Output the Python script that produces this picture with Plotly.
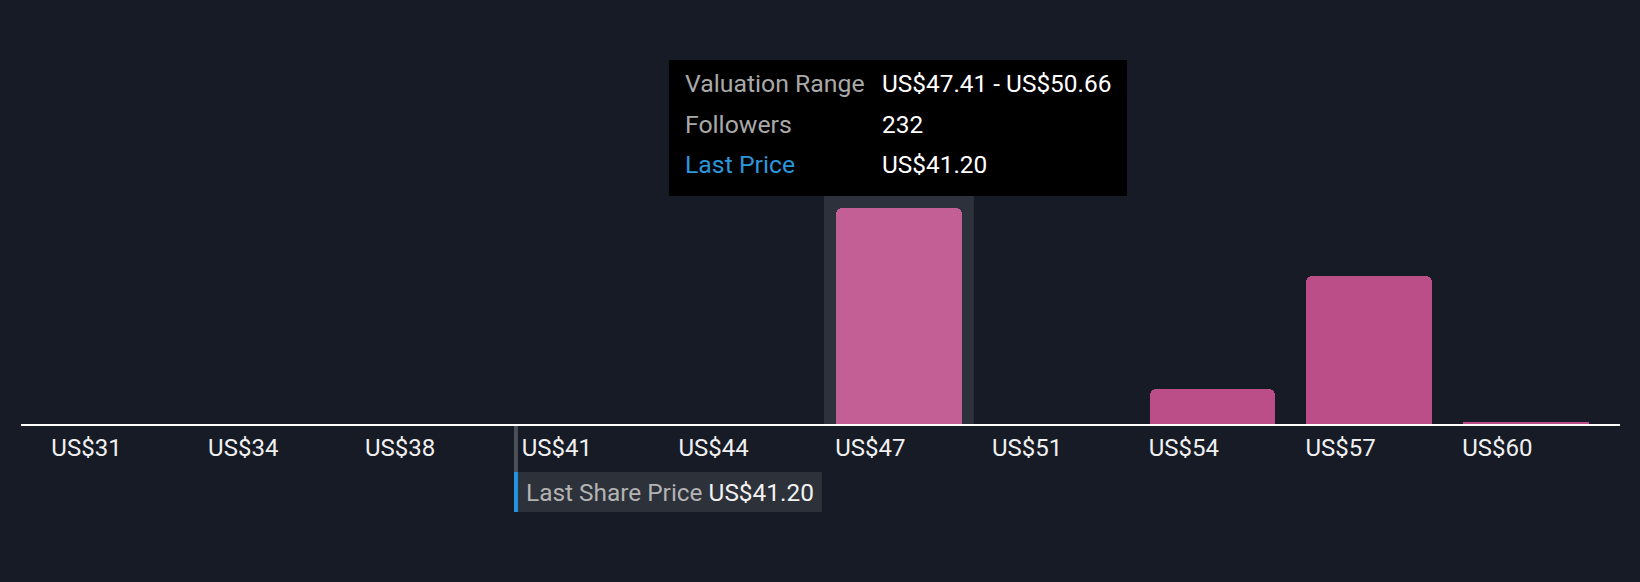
import plotly.graph_objects as go

# Valuation bins (lower bound, USD) and follower counts per bin
bin_low = [31.16, 34.41, 37.66, 40.91, 44.16, 47.41, 50.66, 53.91, 57.16, 60.41]
bin_width = 3.25
tick_labels = ["US$31", "US$34", "US$38", "US$41", "US$44",
               "US$47", "US$51", "US$54", "US$57", "US$60"]
followers = [0, 0, 0, 0, 0, 232, 0, 38, 159, 2]
last_price = 41.20
hovered = 5

bg = "#161b25"
bar_color = "#bb4d88"
hover_color = "#c45f95"
font = "Roboto"
fsize = 24

idx = list(range(len(bin_low)))
colors = [hover_color if i == hovered else bar_color for i in idx]

fig = go.Figure()

# Bars
fig.add_trace(
    go.Bar(
        x=idx,
        y=followers,
        width=0.8,
        marker=dict(color=colors, cornerradius=6, line=dict(width=0)),
        hoverinfo="skip",
        showlegend=False,
    )
)

# Invisible helper on a linear price axis for the last price marker
fig.add_trace(
    go.Scatter(
        x=[last_price],
        y=[0],
        xaxis="x2",
        mode="markers",
        marker=dict(opacity=0),
        hoverinfo="skip",
        showlegend=False,
    )
)

# Hover highlight band behind the hovered bar
fig.add_shape(
    type="rect", xref="x", yref="y",
    x0=hovered - 0.478, x1=hovered + 0.478, y0=0, y1=300,
    fillcolor="#2d313b", line_width=0, layer="below",
)

# Last share price marker: connector, blue tab and label box
fig.add_shape(
    type="rect", xref="x2", yref="paper", xsizemode="pixel", xanchor=last_price,
    x0=-1, x1=3, y0=-0.0047, y1=-0.1132,
    fillcolor="#4b4f57", line_width=0,
)
fig.add_shape(
    type="rect", xref="x2", yref="paper", xsizemode="pixel", xanchor=last_price,
    x0=-1, x1=307, y0=-0.1132, y1=-0.2075,
    fillcolor="#2d313a", line_width=0,
)
fig.add_shape(
    type="rect", xref="x2", yref="paper", xsizemode="pixel", xanchor=last_price,
    x0=-1, x1=3, y0=-0.1132, y1=-0.2075,
    fillcolor="#2394df", line_width=0,
)
fig.add_annotation(
    xref="x2", yref="paper", x=last_price, y=-0.1604,
    xanchor="left", yanchor="middle", xshift=9, showarrow=False,
    text="<span style='color:#b3b3b3'>Last Share Price</span> US$%.2f" % last_price,
    font=dict(family=font, size=24.4, color="#f2f2f2"),
)

# Tooltip box
fig.add_shape(
    type="rect", xref="paper", yref="paper",
    x0=0.40525, x1=0.69168, y0=0.5377, y1=0.8585,
    fillcolor="#000000", line_width=0,
)
rows = [
    ("Valuation Range",
     "US$%.2f - US$%.2f" % (bin_low[hovered], bin_low[hovered] + bin_width),
     "#a9a9a9"),
    ("Followers", str(followers[hovered]), "#a9a9a9"),
    ("Last Price", "US$%.2f" % last_price, "#2a96dc"),
]
row_y = [0.8019, 0.7075, 0.6132]
for (label, value, lcolor), yy in zip(rows, row_y):
    fig.add_annotation(
        xref="paper", yref="paper", x=0.4140, y=yy,
        xanchor="left", yanchor="middle", showarrow=False,
        text=label, font=dict(family=font, size=24.8, color=lcolor),
    )
    fig.add_annotation(
        xref="paper", yref="paper", x=0.5372, y=yy,
        xanchor="left", yanchor="middle", showarrow=False,
        text=value, font=dict(family=font, size=24.4, color="#ffffff"),
    )

fig.update_layout(
    width=1640,
    height=582,
    margin=dict(l=21, r=20, t=0, b=158, autoexpand=False),
    paper_bgcolor=bg,
    plot_bgcolor=bg,
    bargap=0,
    xaxis=dict(
        range=[-0.6, len(idx) - 0.4],
        tickvals=[i - 0.4 for i in idx],
        ticktext=tick_labels,
        ticklabelposition="outside right",
        ticklabelstandoff=1,
        ticklabelshift=-2,
        ticks="",
        showgrid=False,
        zeroline=False,
        showline=True,
        linecolor="#ffffff",
        linewidth=2,
        tickfont=dict(family=font, size=fsize, color="#f0f0f0"),
        fixedrange=True,
    ),
    xaxis2=dict(
        range=[bin_low[0], bin_low[-1] + bin_width],
        overlaying="x",
        visible=False,
        fixedrange=True,
    ),
    yaxis=dict(
        range=[0, 456],
        visible=False,
        showgrid=False,
        zeroline=False,
        fixedrange=True,
    ),
    showlegend=False,
)

fig.write_html(
    "out.html",
    config={"displayModeBar": False},
    post_script="document.body.style.margin='0';document.body.style.background='%s';" % bg,
)
